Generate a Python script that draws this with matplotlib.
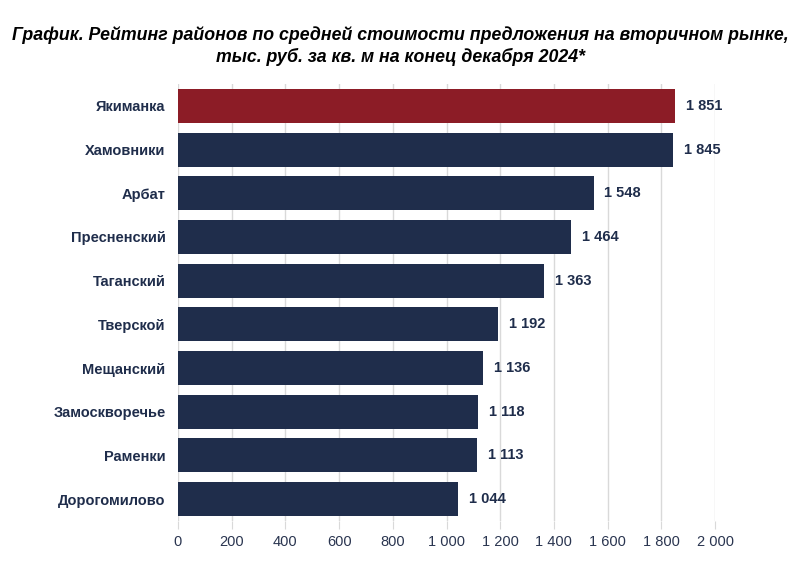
import numpy as np
import matplotlib
matplotlib.use('Agg')
import matplotlib.pyplot as plt
from matplotlib.ticker import FuncFormatter

districts = ['Якиманка', 'Хамовники', 'Арбат', 'Пресненский', 'Таганский',
             'Тверской', 'Мещанский', 'Замоскворечье', 'Раменки', 'Дорогомилово']
prices = [1851, 1845, 1548, 1464, 1363, 1192, 1136, 1118, 1113, 1044]

navy = '#1f2d4b'
red = '#8c1c26'

plt.rcParams['font.family'] = ['Liberation Sans', 'DejaVu Sans']

def fmt(v):
    return '{:,}'.format(int(v)).replace(',', ' ')

fig = plt.figure(figsize=(8, 5.84), dpi=100)
ax = fig.add_axes([0.2225, 0.108, 0.6713, 0.748])

y = np.arange(len(districts))
colors = [red] + [navy] * (len(districts) - 1)
ax.barh(y, prices, height=0.78, color=colors, zorder=3)
for yi, v in zip(y, prices):
    ax.text(v + 40, yi, fmt(v), va='center', ha='left', fontsize=10.5,
            fontweight='bold', color=navy)

ax.set_ylim(len(districts) - 0.5, -0.5)
ax.set_xlim(0, 2000)
ax.set_xticks(np.arange(0, 2001, 200))
ax.xaxis.set_major_formatter(FuncFormatter(lambda v, p: fmt(v)))
ax.set_yticks(y)
ax.set_yticklabels(districts, fontweight='bold', fontsize=10.5, color=navy)
ax.tick_params(axis='y', length=0, pad=9)
ax.tick_params(axis='x', length=6, color='#d9d9d9', labelsize=10.5,
               labelcolor='#2a3550', pad=4)
ax.grid(axis='x', color='#d9d9d9', linewidth=1, zorder=0)
for s in ax.spines.values():
    s.set_visible(False)

fig.text(0.5, 0.955, 'График. Рейтинг районов по средней стоимости предложения на вторичном рынке,\nтыс. руб. за кв. м на конец декабря 2024*',
         ha='center', va='top', fontsize=12.8, fontweight='bold', style='italic',
         color='black', linespacing=1.3)

fig.savefig('out.png', dpi=100)
